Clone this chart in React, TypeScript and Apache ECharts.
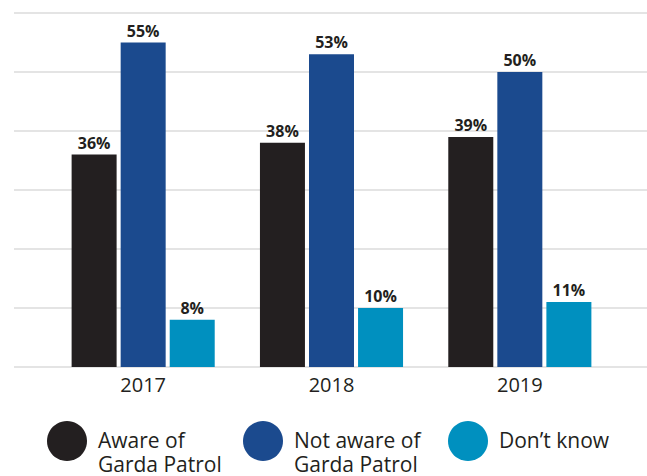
import React, { useEffect, useRef } from "react";
import * as echarts from "echarts";

const years = ["2017", "2018", "2019"];
const seriesNames = ["Aware of Garda Patrol", "Not aware of Garda Patrol", "Don’t know"];
const legendLines = [["Aware of", "Garda Patrol"], ["Not aware of", "Garda Patrol"], ["Don’t know"]];
const aware = [36, 38, 39];
const notAware = [55, 53, 50];
const dontKnow = [8, 10, 11];
const colors = ["#231f20", "#1b4a8e", "#0090bf"];

export default function App() {
  const ref = useRef<HTMLDivElement>(null);
  useEffect(() => {
    if (!ref.current) return;
    const chart = echarts.init(ref.current, null, { renderer: "svg" });
    const font = "'Open Sans', 'Noto Sans', sans-serif";
    const values = [aware, notAware, dontKnow];
    const legendX = [67, 263, 468];
    const graphic: any[] = [];
    legendLines.forEach((lines, i) => {
      graphic.push({
        type: "circle",
        shape: { cx: legendX[i], cy: 441, r: 20 },
        style: { fill: colors[i] },
      });
      lines.forEach((line, j) => {
        graphic.push({
          type: "text",
          x: legendX[i] + 31,
          y: 440 + j * 24,
          style: {
            text: line,
            fontFamily: font,
            fontSize: 21,
            lineHeight: 22,
            fill: "#231f20",
            verticalAlign: "middle",
            align: "left",
          },
        });
      });
    });
    chart.setOption({
      animation: false,
      textStyle: { fontFamily: font },
      grid: [
        { left: 14, right: 0, top: 13, bottom: 109 },
        { left: 49, right: 33, top: 13, bottom: 109 },
      ],
      xAxis: [
        { type: "value", gridIndex: 0, show: false, min: 0, max: 1 },
        {
          type: "category",
          gridIndex: 1,
          data: years,
          axisLine: { show: false },
          axisTick: { show: false },
          axisLabel: { fontSize: 20, color: "#231f20", margin: 7, fontFamily: font },
        },
      ],
      yAxis: [
        {
          type: "value",
          gridIndex: 0,
          min: 0,
          max: 60,
          interval: 10,
          axisLabel: { show: false },
          axisLine: { show: false },
          axisTick: { show: false },
          splitLine: { show: true, lineStyle: { color: "#e4e4e4", width: 2 } },
        },
        { type: "value", gridIndex: 1, min: 0, max: 60, interval: 10, show: false, splitLine: { show: false } },
      ],
      graphic,
      series: seriesNames.map((name, i) => ({
        name,
        type: "bar",
        xAxisIndex: 1,
        yAxisIndex: 1,
        data: values[i],
        barWidth: 45,
        barGap: "9%",
        itemStyle: { color: colors[i] },
        label: {
          show: true,
          position: "top",
          distance: 4,
          formatter: "{c}%",
          fontWeight: "bold",
          fontSize: 16,
          color: "#231f20",
          fontFamily: font,
        },
      })),
    });
    return () => chart.dispose();
  }, []);
  return (
    <div
      ref={ref}
      style={{ position: "fixed", left: 0, top: 0, width: 647, height: 476, background: "#fff" }}
    />
  );
}
